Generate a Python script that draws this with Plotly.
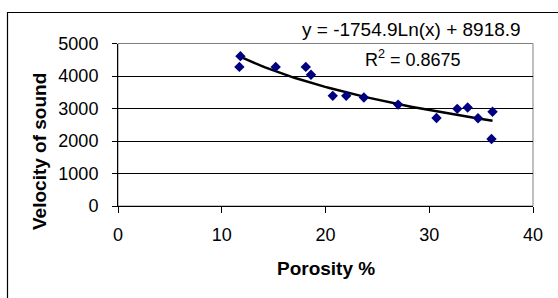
import numpy as np
import plotly.graph_objects as go

# Data
porosity = [11.7, 11.8, 15.2, 18.1, 18.6, 20.7, 22.0, 23.7, 27.0, 30.7, 32.7, 33.7, 34.7, 36.1, 36.0]
velocity = [4280, 4610, 4280, 4280, 4040, 3390, 3390, 3340, 3120, 2710, 2990, 3030, 2700, 2900, 2060]

# Logarithmic trendline coefficients shown on the chart
trend_a = -1754.9
trend_b = 8918.9
equation_text = "y = -1754.9Ln(x) + 8918.9"
r2_text = "R<sup>2</sup> = 0.8675"

x_ticks = [0, 10, 20, 30, 40]
y_ticks = [0, 1000, 2000, 3000, 4000, 5000]

x_title = "Porosity %"
y_title = "Velocity of sound"

tx = np.linspace(min(porosity), max(porosity), 60)
ty = trend_a * np.log(tx) + trend_b

FONT = "Liberation Sans, Arial, sans-serif"

W, H = 558, 298
PL, PR, PT, PB = 118, 533, 43.5, 206  # plot-area edges in pixels


def fx(p):
    return p / W


def fy(p):
    return 1 - p / H


fig = go.Figure()
fig.add_trace(go.Scatter(x=tx, y=ty, mode="lines",
                         line=dict(color="black", width=2.5), hoverinfo="skip"))
fig.add_trace(go.Scatter(x=porosity, y=velocity, mode="markers",
                         marker=dict(symbol="diamond", size=8, color="#000080",
                                     line=dict(width=0))))

fig.update_layout(
    width=W, height=H,
    margin=dict(l=0, r=0, t=0, b=0, pad=0, autoexpand=False),
    paper_bgcolor="white", plot_bgcolor="white",
    showlegend=False,
    font=dict(family=FONT, color="black", size=17),
    xaxis=dict(domain=[fx(PL), fx(PR)], range=[0, 40], tickvals=x_ticks,
               showgrid=False, showline=True, linecolor="black", linewidth=1,
               ticks="outside", ticklen=6, tickcolor="black",
               ticklabelstandoff=6, zeroline=False,
               tickfont=dict(size=18)),
    yaxis=dict(domain=[fy(PB), fy(PT)], range=[0, 5000], tickvals=y_ticks,
               showgrid=True, gridcolor="black", gridwidth=1,
               showline=True, linecolor="black", linewidth=1,
               ticks="outside", ticklen=5, tickcolor="black",
               ticklabelstandoff=10, zeroline=False,
               tickfont=dict(size=18)),
    shapes=[
        # plot-area border (grey)
        dict(type="rect", xref="paper", yref="paper",
             x0=fx(PL), x1=fx(PR), y0=fy(PB), y1=fy(PT),
             line=dict(color="#808080", width=1), layer="below"),
        # outer chart frame (left and top edges visible)
        dict(type="line", xref="paper", yref="paper",
             x0=fx(7.5), x1=fx(7.5), y0=fy(12.5), y1=0,
             line=dict(color="black", width=1.2), layer="above"),
        dict(type="line", xref="paper", yref="paper",
             x0=fx(7), x1=1, y0=fy(12.5), y1=fy(12.5),
             line=dict(color="black", width=1.2), layer="above"),
    ],
    annotations=[
        dict(text=equation_text, xref="paper", yref="paper",
             x=fx(411), y=fy(30), showarrow=False,
             font=dict(size=19), xanchor="center", yanchor="middle"),
        dict(text=r2_text, xref="paper", yref="paper",
             x=fx(413), y=fy(58), showarrow=False,
             font=dict(size=18), xanchor="center", yanchor="middle"),
        dict(text="<b>" + x_title + "</b>", xref="paper", yref="paper",
             x=fx(326), y=fy(268), showarrow=False,
             font=dict(size=19), xanchor="center", yanchor="middle"),
        dict(text="<b>" + y_title + "</b>", xref="paper", yref="paper",
             x=fx(39), y=fy(151), showarrow=False, textangle=-90,
             font=dict(size=19), xanchor="center", yanchor="middle"),
    ],
)

fig.write_html("out.html", config={"displayModeBar": False},
               post_script="document.body.style.margin='0';document.body.style.overflow='hidden';")
